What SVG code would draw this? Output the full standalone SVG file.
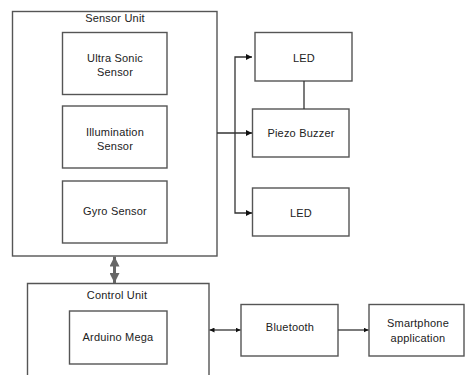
<svg xmlns="http://www.w3.org/2000/svg" width="466" height="375" viewBox="0 0 466 375">
<defs>
<style>
.box{fill:#fff;stroke:#555;stroke-width:1.4}
.ln{fill:none;stroke:#333;stroke-width:1.3}
text{font-family:"Liberation Sans",Arial,sans-serif;font-size:11px;fill:#222;text-anchor:middle;dominant-baseline:central;letter-spacing:0.2px}
</style>
<marker id="ah" viewBox="0 0 10 10" refX="10" refY="5" markerWidth="6" markerHeight="6" markerUnits="userSpaceOnUse" orient="auto-start-reverse">
<path d="M0,0 L10,5 L0,10 Z" fill="#111"/>
</marker>
<marker id="ahs" viewBox="0 0 10 10" refX="10" refY="5" markerWidth="5" markerHeight="5" markerUnits="userSpaceOnUse" orient="auto-start-reverse">
<path d="M0,0 L10,5 L0,10 Z" fill="#111"/>
</marker>
<marker id="ahg" viewBox="0 0 10 10" refX="10" refY="5" markerWidth="10" markerHeight="10" markerUnits="userSpaceOnUse" orient="auto-start-reverse">
<path d="M0,0 L10,5 L0,10 Z" fill="#666"/>
</marker>
</defs>
<rect width="466" height="375" fill="#fff"/>
<g id="sensor-unit">
<rect class="box" x="12.5" y="11.5" width="204.5" height="244.5"/>
<text x="115" y="18">Sensor Unit</text>
</g>
<g id="ultrasonic">
<rect class="box" x="62.5" y="32.5" width="104.5" height="62"/>
<text x="115" y="58">Ultra Sonic</text>
<text x="115" y="72">Sensor</text>
</g>
<g id="illumination">
<rect class="box" x="62.5" y="106" width="104.5" height="62"/>
<text x="115" y="132">Illumination</text>
<text x="115" y="146">Sensor</text>
</g>
<g id="gyro">
<rect class="box" x="62.5" y="181" width="104.5" height="62"/>
<text x="115" y="211">Gyro Sensor</text>
</g>
<g id="led1">
<rect class="box" x="255" y="32.5" width="97" height="48.5"/>
<text x="304" y="58">LED</text>
</g>
<g id="piezo">
<rect class="box" x="252.5" y="109" width="96.5" height="48"/>
<text x="301" y="133">Piezo Buzzer</text>
</g>
<g id="led2">
<rect class="box" x="252.5" y="188" width="96.5" height="48"/>
<text x="301" y="213">LED</text>
</g>
<g id="control-unit">
<path class="box" d="M27.5,376 V283.5 H209 V376"/>
<text x="117" y="295">Control Unit</text>
</g>
<g id="arduino">
<rect class="box" x="69.5" y="311" width="97.5" height="53"/>
<text x="118" y="337">Arduino Mega</text>
</g>
<g id="bluetooth">
<rect class="box" x="241" y="304.5" width="97" height="51.5"/>
<text x="290" y="327">Bluetooth</text>
</g>
<g id="smartphone">
<rect class="box" x="369" y="304.5" width="95" height="51.5"/>
<text x="418" y="323">Smartphone</text>
<text x="418" y="338">application</text>
</g>
<g id="connectors">
<path class="ln" d="M217,133 H252" marker-end="url(#ah)"/>
<path class="ln" d="M252,57 H235 V213 H252" marker-start="url(#ah)" marker-end="url(#ah)"/>
<path class="ln" d="M304,81 V109"/>
<path d="M114.5,256.5 V283" fill="none" stroke="#666" stroke-width="3" marker-start="url(#ahg)" marker-end="url(#ahg)"/>
<path class="ln" d="M209.5,330 H240.5" marker-start="url(#ahs)" marker-end="url(#ahs)"/>
<path class="ln" d="M338,330 H368.5" marker-end="url(#ahs)"/>
</g>
</svg>
